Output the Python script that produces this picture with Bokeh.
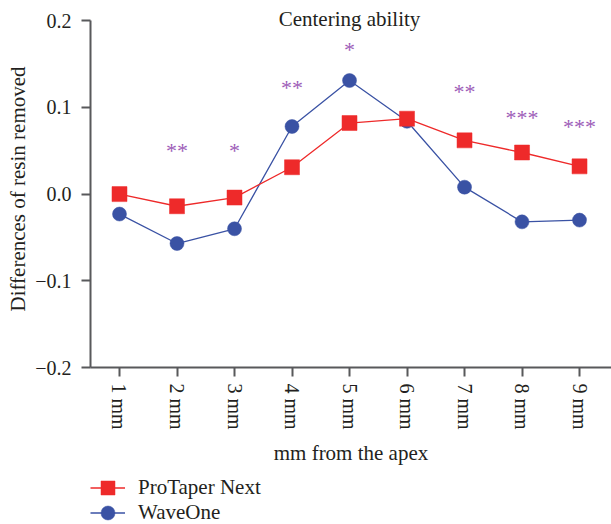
from bokeh.plotting import figure
from bokeh.layouts import column
from bokeh.models import FixedTicker, Range1d, Legend, LegendItem, Label, ColumnDataSource
from bokeh.embed import file_html
from bokeh.resources import INLINE
from bokeh.core.properties import value

# ---- data ----
categories = ["1 mm", "2 mm", "3 mm", "4 mm", "5 mm", "6 mm", "7 mm", "8 mm", "9 mm"]
protaper_next = [0.000, -0.014, -0.004, 0.031, 0.082, 0.087, 0.062, 0.048, 0.032]
waveone = [-0.023, -0.057, -0.040, 0.078, 0.131, 0.084, 0.008, -0.032, -0.030]
sig_marks = ["**", "*", "**", "*", "**", "***", "***"]
sig_cats = ["2 mm", "3 mm", "4 mm", "5 mm", "7 mm", "8 mm", "9 mm"]
sig_y = [0.050, 0.050, 0.123, 0.167, 0.118, 0.088, 0.078]
y_ticks = [-0.2, -0.1, 0.0, 0.1, 0.2]
y_tick_labels = ["\u22120.2", "\u22120.1", "0.0", "0.1", "0.2"]
series_names = ["ProTaper Next", "WaveOne"]
title_text = "Centering ability"
x_label = "mm from the apex"
y_label = "Differences of resin removed"

FONT = "Liberation Serif"
RED = "#EE2A2A"
BLUE = "#3A52A4"
PURPLE = "#9D5DB8"
TXT = "#231F20"
AX = "#58595B"

xs = list(range(1, len(categories) + 1))
pos = {c: i for c, i in zip(categories, xs)}

p = figure(width=611, height=470, output_backend="svg", toolbar_location=None,
           x_range=Range1d(0.4957, 9.556), y_range=Range1d(-0.2, 0.2118),
           min_border_left=90, min_border_right=0, min_border_top=10, min_border_bottom=103)
p.outline_line_color = None
p.xgrid.visible = False
p.ygrid.visible = False
p.background_fill_color = "white"

# axes
p.xaxis.ticker = FixedTicker(ticks=xs)
p.xaxis.major_label_overrides = {i: c for i, c in zip(xs, categories)}
p.xaxis.major_label_orientation = "vertical"
p.yaxis.ticker = FixedTicker(ticks=y_ticks)
p.yaxis.major_label_overrides = {t: l for t, l in zip(y_ticks, y_tick_labels)}
p.yaxis.bounds = (-0.2, 0.2)
for ax in (p.xaxis, p.yaxis):
    ax.axis_line_color = AX
    ax.axis_line_width = 2
    ax.major_tick_line_color = AX
    ax.major_tick_line_width = 2
    ax.major_tick_out = 9
    ax.major_tick_in = 0
    ax.minor_tick_line_color = None
    ax.major_label_text_font = FONT
    ax.major_label_text_font_size = "20px"
    ax.major_label_text_color = TXT
    ax.axis_label_text_font = FONT
    ax.axis_label_text_font_size = "21px"
    ax.axis_label_text_font_style = "normal"
    ax.axis_label_text_color = TXT
p.xaxis.major_label_standoff = 7
p.yaxis.major_label_standoff = 10
p.xaxis.axis_label = x_label
p.xaxis.axis_label_standoff = 8
p.yaxis.axis_label = y_label
p.yaxis.axis_label_standoff = 2

# series (WaveOne drawn first so ProTaper sits on top)
src_w = ColumnDataSource(dict(x=xs, y=waveone))
src_p = ColumnDataSource(dict(x=xs, y=protaper_next))
line_kw = dict(line_width=1.3)
p.line("x", "y", source=src_w, line_color=BLUE, **line_kw)
p.scatter("x", "y", source=src_w, marker="circle", size=14,
          fill_color=BLUE, line_color=BLUE, line_width=0.5)
p.line("x", "y", source=src_p, line_color=RED, **line_kw)
p.scatter("x", "y", source=src_p, marker="square", size=15,
          fill_color=RED, line_color=RED, line_width=0.5)

# significance marks
src_s = ColumnDataSource(dict(x=[pos[c] for c in sig_cats], y=sig_y, t=sig_marks))
p.text("x", "y", text="t", source=src_s, text_font=value(FONT), text_font_size="22px",
       text_color=PURPLE, text_align="center", text_baseline="middle")

# title
p.add_layout(Label(x=5, y=0.2025, text=title_text, text_font=FONT, text_font_size="21px",
                   text_color=TXT, text_align="center", text_baseline="alphabetic"))

# ---- legend strip under the chart ----
lg = figure(width=611, height=54, output_backend="svg", toolbar_location=None,
            x_range=Range1d(0, 1), y_range=Range1d(10, 11),
            x_axis_location=None, y_axis_location=None,
            min_border_left=90, min_border_right=0, min_border_top=0, min_border_bottom=0)
lg.outline_line_color = None
lg.xgrid.visible = False
lg.ygrid.visible = False
# same series, drawn out of this strip's view: only their legend glyphs show
r_pl = lg.line("x", "y", source=src_p, line_color=RED, **line_kw)
r_pm = lg.scatter("x", "y", source=src_p, marker="square", fill_color=RED, line_color=RED, line_width=0.5)
r_wl = lg.line("x", "y", source=src_w, line_color=BLUE, **line_kw)
r_wm = lg.scatter("x", "y", source=src_w, marker="circle", fill_color=BLUE, line_color=BLUE, line_width=0.5)

leg_kw = dict(orientation="vertical", padding=0, margin=0, spacing=0,
              glyph_width=35, glyph_height=35, label_height=35, label_standoff=13,
              label_text_font=FONT, label_text_font_size="21px", label_text_color=TXT,
              border_line_color=None, background_fill_color=None)
lg.add_layout(Legend(items=[LegendItem(label=series_names[0], renderers=[r_pl, r_pm])],
                     location=(0, 19), **leg_kw))
lg.add_layout(Legend(items=[LegendItem(label=series_names[1], renderers=[r_wl, r_wm])],
                     location=(0, -6), **leg_kw))

open("out.html", "w").write(file_html(column(p, lg, spacing=0), INLINE))
